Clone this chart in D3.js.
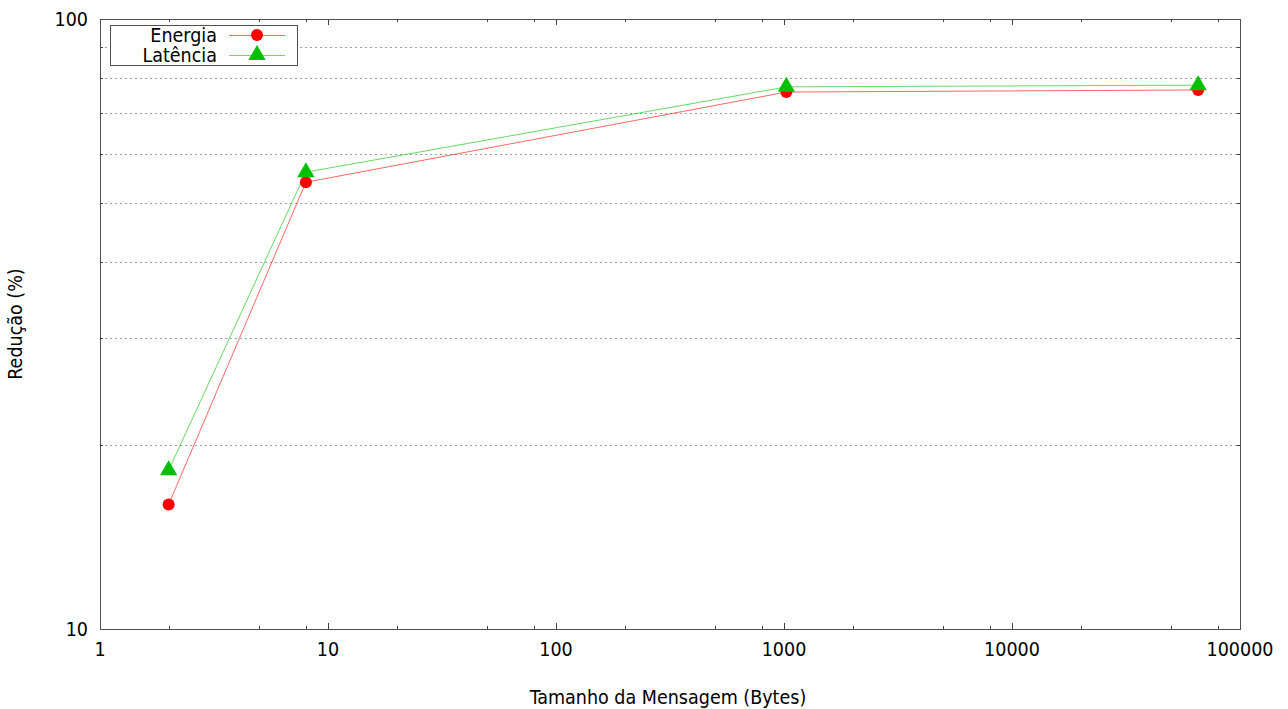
<!DOCTYPE html>
<html>
<head>
<meta charset="utf-8">
<script src="https://cdn.jsdelivr.net/npm/d3@7"></script>
<style>
  body { margin: 0; background: #fff; }
  svg text { font-family: "DejaVu Sans Condensed", "DejaVu Sans", sans-serif; font-size: 19.5px; fill: #000; }
</style>
</head>
<body>
<div id="chart"></div>
<script>
// message sizes (bytes)
var sizes = [2, 8, 1024, 65536];
var seriesNames = ["Energia", "Latência"];
var energia = [16.0, 54.0, 75.9, 76.5];
var latencia = [18.2, 56.1, 77.4, 77.9];
var xTickValues = [1, 10, 100, 1000, 10000, 100000];
var yTickValues = [10, 100];
var yGridValues = [20, 30, 40, 50, 60, 70, 80, 90];

var width = 1288, height = 709;
var mLeft = 100, mRight = 1240, mTop = 19, mBottom = 629;

var svg = d3.select("#chart").append("svg")
    .attr("width", width)
    .attr("height", height);

var x = d3.scaleLog().domain([1, 100000]).range([mLeft, mRight]);
var y = d3.scaleLog().domain([10, 100]).range([mBottom, mTop]);

// minor x ticks at 2, 5, 8 of each decade
var xMinor = [];
[1, 10, 100, 1000, 10000].forEach(function (d) {
    [2, 5, 8].forEach(function (m) { xMinor.push(d * m); });
});

function px(v) { return Math.round(v) + 0.5; }

// grid
svg.append("g").selectAll("line")
    .data(yGridValues)
    .enter().append("line")
    .attr("x1", mLeft).attr("x2", mRight)
    .attr("y1", function (d) { return px(y(d)); })
    .attr("y2", function (d) { return px(y(d)); })
    .attr("stroke", "#a0a0a0")
    .attr("stroke-width", 1)
    .attr("stroke-dasharray", "2,3");

// ticks (inward, mirrored)
var ticks = svg.append("g").attr("stroke", "#404040").attr("stroke-width", 1);
xTickValues.forEach(function (d) {
    ticks.append("line").attr("x1", px(x(d))).attr("x2", px(x(d))).attr("y1", mBottom).attr("y2", mBottom - 6);
    ticks.append("line").attr("x1", px(x(d))).attr("x2", px(x(d))).attr("y1", mTop).attr("y2", mTop + 6);
});
xMinor.forEach(function (d) {
    ticks.append("line").attr("x1", px(x(d))).attr("x2", px(x(d))).attr("y1", mBottom).attr("y2", mBottom - 3);
    ticks.append("line").attr("x1", px(x(d))).attr("x2", px(x(d))).attr("y1", mTop).attr("y2", mTop + 3);
});
yGridValues.forEach(function (d) {
    ticks.append("line").attr("x1", mLeft).attr("x2", mLeft + 3).attr("y1", px(y(d))).attr("y2", px(y(d)));
    ticks.append("line").attr("x1", mRight).attr("x2", mRight - 3).attr("y1", px(y(d))).attr("y2", px(y(d)));
});

// border
svg.append("rect")
    .attr("x", mLeft + 0.5).attr("y", mTop + 0.5)
    .attr("width", mRight - mLeft).attr("height", mBottom - mTop)
    .attr("fill", "none")
    .attr("stroke", "#505050")
    .attr("stroke-width", 1);

// tick labels
svg.append("g").selectAll("text")
    .data(xTickValues)
    .enter().append("text")
    .attr("x", function (d) { return x(d); })
    .attr("y", mBottom + 27)
    .attr("text-anchor", "middle")
    .text(function (d) { return d; });

svg.append("g").selectAll("text")
    .data(yTickValues)
    .enter().append("text")
    .attr("x", mLeft - 12)
    .attr("y", function (d) { return y(d); })
    .attr("dy", "0.35em")
    .attr("text-anchor", "end")
    .text(function (d) { return d; });

// axis titles
svg.append("text")
    .attr("x", (mLeft + mRight) / 2 - 2)
    .attr("y", 704)
    .attr("text-anchor", "middle")
    .text("Tamanho da Mensagem (Bytes)");

svg.append("text")
    .attr("transform", "translate(22," + (mTop + mBottom) / 2 + ") rotate(-90)")
    .attr("text-anchor", "middle")
    .text("Redução (%)");

// series
var colors = ["#ff0000", "#00c000"];
var series = [energia, latencia];
var line = d3.line()
    .x(function (d, i) { return x(sizes[i]); })
    .y(function (d) { return y(d); });

series.forEach(function (vals, k) {
    svg.append("path")
        .datum(vals)
        .attr("d", line)
        .attr("fill", "none")
        .attr("stroke", colors[k])
        .attr("stroke-opacity", 0.6)
        .attr("stroke-width", 1);
});

var tri = d3.symbol().type(d3.symbolTriangle).size(130);

svg.append("g").selectAll("circle")
    .data(energia)
    .enter().append("circle")
    .attr("cx", function (d, i) { return x(sizes[i]); })
    .attr("cy", function (d) { return y(d); })
    .attr("r", 6)
    .attr("fill", colors[0]);

svg.append("g").selectAll("path")
    .data(latencia)
    .enter().append("path")
    .attr("d", tri)
    .attr("transform", function (d, i) { return "translate(" + x(sizes[i]) + "," + y(d) + ")"; })
    .attr("fill", colors[1]);

// legend
var lg = svg.append("g");
lg.append("rect")
    .attr("x", 110.5).attr("y", 25.5)
    .attr("width", 187).attr("height", 40)
    .attr("fill", "#fff")
    .attr("stroke", "#505050");

seriesNames.forEach(function (name, k) {
    var ly = 35 + k * 20;
    lg.append("text")
        .attr("x", 217).attr("y", ly)
        .attr("dy", "0.35em")
        .attr("text-anchor", "end")
        .text(name);
    lg.append("line")
        .attr("x1", 229).attr("x2", 285)
        .attr("y1", ly + 0.5).attr("y2", ly + 0.5)
        .attr("stroke", colors[k])
        .attr("stroke-opacity", 0.6);
    if (k === 0) {
        lg.append("circle").attr("cx", 257).attr("cy", ly).attr("r", 6).attr("fill", colors[0]);
    } else {
        lg.append("path").attr("d", tri).attr("transform", "translate(257," + ly + ")").attr("fill", colors[1]);
    }
});
</script>
</body>
</html>
